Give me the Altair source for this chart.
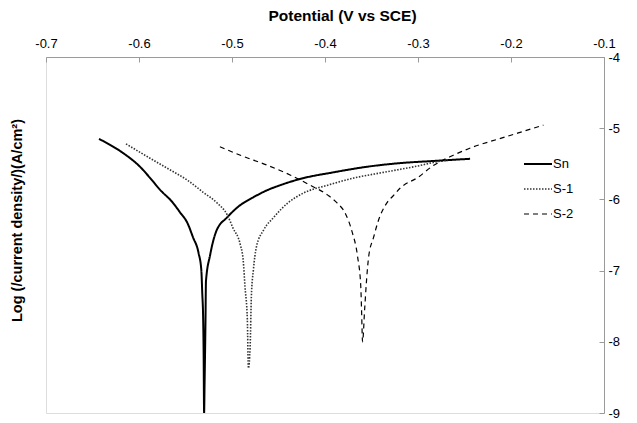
import altair as alt
import pandas as pd

series_names = ["Sn", "S-1", "S-2"]
x_ticks = [-0.7, -0.6, -0.5, -0.4, -0.3, -0.2, -0.1]
y_ticks = [-4, -5, -6, -7, -8, -9]

sn_E = [-0.643, -0.617, -0.599, -0.588, -0.577, -0.564, -0.556, -0.548, -0.542, -0.536,
        -0.533, -0.532, -0.531, -0.5305, -0.530, -0.5295, -0.5285, -0.528, -0.5235, -0.517,
        -0.505, -0.494, -0.477, -0.462, -0.448, -0.426, -0.391, -0.354, -0.319, -0.283, -0.244]
sn_log = [-5.15, -5.35, -5.54, -5.70, -5.87, -6.04, -6.18, -6.33, -6.53, -6.75,
          -6.99, -7.31, -7.69, -8.16, -9.00, -8.60, -7.70, -7.15, -6.78, -6.45,
          -6.25, -6.11, -5.97, -5.87, -5.80, -5.71, -5.62, -5.54, -5.49, -5.46, -5.43]

s1_E = [-0.614, -0.591, -0.570, -0.548, -0.531, -0.516, -0.505, -0.499, -0.491, -0.488,
        -0.486, -0.4835, -0.4824, -0.4805, -0.4792, -0.477, -0.4738, -0.466, -0.455, -0.440,
        -0.423, -0.397, -0.369, -0.337, -0.300, -0.279, -0.268]
s1_log = [-5.22, -5.40, -5.56, -5.73, -5.90, -6.05, -6.22, -6.40, -6.64, -6.85,
          -7.23, -7.69, -8.37, -8.07, -7.37, -6.99, -6.67, -6.43, -6.25, -6.05,
          -5.91, -5.80, -5.70, -5.62, -5.53, -5.47, -5.45]

s2_E = [-0.513, -0.491, -0.462, -0.437, -0.416, -0.397, -0.387, -0.378, -0.371, -0.365,
        -0.3615, -0.3607, -0.3596, -0.3574, -0.3553, -0.3531, -0.3477, -0.3424, -0.335, -0.326,
        -0.319, -0.300, -0.283, -0.262, -0.240, -0.213, -0.193, -0.165]
s2_log = [-5.26, -5.38, -5.52, -5.66, -5.80, -5.94, -6.05, -6.20, -6.45, -6.80,
          -7.23, -7.55, -8.00, -7.55, -7.13, -6.81, -6.53, -6.29, -6.08, -5.94,
          -5.84, -5.69, -5.52, -5.38, -5.26, -5.15, -5.07, -4.955]

rows = []
for name, xs, ys in [("Sn", sn_E, sn_log), ("S-1", s1_E, s1_log), ("S-2", s2_E, s2_log)]:
    for i, (xv, yv) in enumerate(zip(xs, ys)):
        rows.append({"series": name, "E": xv, "logi": yv, "idx": i})
df = pd.DataFrame(rows)

FONT = "Liberation Sans"
HYPHEN = "replace(datum.label, '\u2212', '-')"

x_enc = alt.X(
    "E:Q",
    scale=alt.Scale(domain=[-0.7, -0.1], nice=False, zero=False),
    axis=alt.Axis(
        orient="top", values=x_ticks, format=".1f", labelExpr=HYPHEN,
        title="Potential (V vs SCE)",
        grid=False, domainColor="#9a9a9a", tickColor="#9a9a9a", tickSize={"expr": "-5"},
        labelPadding=12, labelFont=FONT, labelFontSize=13, labelColor="#000000",
        titleFont=FONT, titleFontSize=15.5, titleFontWeight="bold", titleColor="#000000",
        titleX=296, titleY=-42, titleBaseline="middle", titleAlign="center",
        labelFlush=False,
    ),
)
y_enc = alt.Y(
    "logi:Q",
    scale=alt.Scale(domain=[-9, -4], nice=False, zero=False),
    axis=alt.Axis(
        orient="right", values=y_ticks, format="d", labelExpr=HYPHEN,
        title="Log (/current density/)(A/cm²)",
        grid=False, domainColor="#9a9a9a", tickColor="#9a9a9a", tickSize={"expr": "-5"},
        labelPadding=9, labelFont=FONT, labelFontSize=13, labelColor="#000000",
        titleFont=FONT, titleFontSize=14.5, titleFontWeight="bold", titleColor="#000000",
        titleX=-587, titleY=163, titleAngle=270, titleBaseline="middle", titleAlign="center",
        labelFlush=False,
    ),
)

legend = alt.Legend(
    title=None, orient="none", legendX=477, legendY=92,
    symbolType="stroke", symbolSize=784, labelFont=FONT, labelFontSize=13,
    labelColor="#000000", labelOffset=0, rowPadding=3,
)

chart = alt.Chart(df).mark_line(clip=True, interpolate="monotone").encode(
    x=x_enc,
    y=y_enc,
    color=alt.Color("series:N", scale=alt.Scale(domain=series_names, range=["#000000", "#333333", "#000000"]), legend=legend),
    strokeDash=alt.StrokeDash("series:N", scale=alt.Scale(domain=series_names, range=[[1, 0], [1.5, 1.5], [5, 4]]), legend=legend),
    strokeWidth=alt.StrokeWidth("series:N", scale=alt.Scale(domain=series_names, range=[2, 1.2, 2]), legend=legend),
    order="idx:Q",
).properties(
    width=558, height=356,
    autosize=alt.AutoSizeParams(type="none"),
    padding={"left": 46, "top": 57, "right": 33, "bottom": 10},
).configure_view(stroke=None).configure(background="white")

chart.save("out.html", embed_options={"renderer": "svg", "actions": False})
